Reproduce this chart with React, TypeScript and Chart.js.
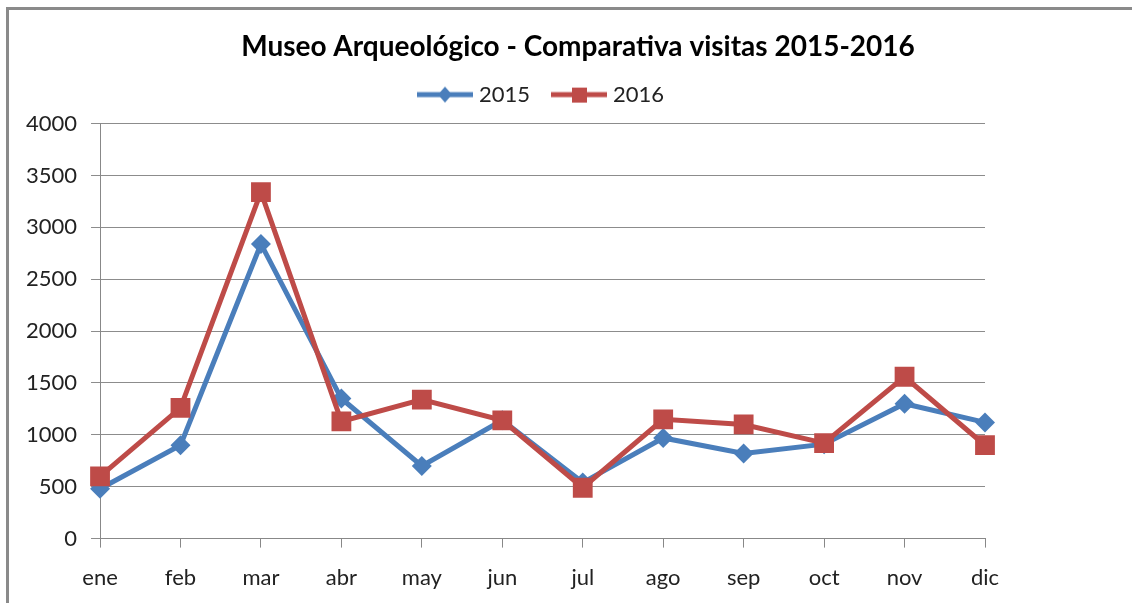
import React, { useEffect, useRef } from "react";
import { Chart, registerables } from "chart.js";

Chart.register(...registerables);

const months = ["ene", "feb", "mar", "abr", "may", "jun", "jul", "ago", "sep", "oct", "nov", "dic"];
const visits2015 = [480, 900, 2840, 1350, 700, 1140, 540, 970, 820, 910, 1300, 1120];
const visits2016 = [600, 1260, 3340, 1130, 1340, 1140, 490, 1150, 1100, 920, 1560, 900];
const seriesNames = ["2015", "2016"];
const titleText = "Museo Arqueológico - Comparativa visitas 2015-2016";

const BLUE = "#4A7EBB";
const RED = "#BE4B48";
const FONT = "Lato, 'Open Sans', sans-serif";

function legendIcon(color: string, shape: "diamond" | "square"): HTMLCanvasElement {
  const c = document.createElement("canvas");
  c.width = 56;
  c.height = 22;
  const ctx = c.getContext("2d")!;
  ctx.strokeStyle = color;
  ctx.lineWidth = 5;
  ctx.beginPath();
  ctx.moveTo(0, 11);
  ctx.lineTo(56, 11);
  ctx.stroke();
  ctx.fillStyle = color;
  if (shape === "diamond") {
    ctx.beginPath();
    ctx.moveTo(28, 3);
    ctx.lineTo(35, 11);
    ctx.lineTo(28, 19);
    ctx.lineTo(21, 11);
    ctx.closePath();
    ctx.fill();
  } else {
    ctx.fillRect(21, 4, 15, 15);
  }
  return c;
}

const shiftPlugin = {
  id: "shiftHeader",
  afterLayout(chart: any) {
    const t = chart.titleBlock;
    if (t) {
      const dx = 578 - (t.left + t.right) / 2;
      t.left += dx;
      t.right += dx;
    }
    const l = chart.legend;
    if (l) {
      const dx = 543 - (l.left + l.right) / 2;
      l.left += dx;
      l.right += dx;
      l.top -= 8;
      l.bottom -= 8;
    }
  },
};

export default function App() {
  const ref = useRef<HTMLCanvasElement | null>(null);

  useEffect(() => {
    if (!ref.current) return;
    const icons = [legendIcon(BLUE, "diamond"), legendIcon(RED, "square")];
    const chart = new Chart(ref.current, {
      type: "line",
      data: {
        labels: months,
        datasets: [
          {
            label: seriesNames[0],
            data: visits2015,
            borderColor: BLUE,
            backgroundColor: BLUE,
            borderWidth: 5,
            pointStyle: "rectRot",
            pointRadius: 10,
            pointBorderWidth: 0,
            pointBackgroundColor: BLUE,
            order: 1,
          },
          {
            label: seriesNames[1],
            data: visits2016,
            borderColor: RED,
            backgroundColor: RED,
            borderWidth: 5,
            pointStyle: "rect",
            pointRadius: 14,
            pointBorderWidth: 0,
            pointBackgroundColor: RED,
            order: 0,
          },
        ],
      },
      plugins: [shiftPlugin],
      options: {
        animation: false,
        responsive: false,
        maintainAspectRatio: false,
        layout: { padding: { left: 12, right: 147, top: 14, bottom: 0 } },
        plugins: {
          tooltip: { enabled: false },
          title: {
            display: true,
            text: titleText,
            color: "#000",
            font: { family: FONT, size: 28, weight: "bold" },
            padding: { top: 16, bottom: 2 },
          },
          legend: {
            display: true,
            position: "top",
            labels: {
              usePointStyle: true,
              pointStyleWidth: 46,
              padding: 26,
              color: "#222",
              font: { family: FONT, size: 22 },
              generateLabels: (ch: any) =>
                ch.data.datasets.map((ds: any, i: number) => ({
                  text: ds.label,
                  fillStyle: ds.borderColor,
                  strokeStyle: ds.borderColor,
                  lineWidth: 0,
                  pointStyle: icons[i],
                  datasetIndex: i,
                  hidden: false,
                  fontColor: "#222",
                })),
            },
          },
        },
        scales: {
          x: {
            offset: false,
            grid: {
              display: true,
              drawOnChartArea: false,
              drawTicks: true,
              tickLength: 9,
              color: "#888",
            },
            border: { display: true, color: "#888", width: 1 },
            ticks: {
              color: "#222",
              font: { family: FONT, size: 22 },
              padding: 17,
              maxRotation: 0,
              autoSkip: false,
            },
          },
          y: {
            min: 0,
            max: 4000,
            grid: {
              display: true,
              drawOnChartArea: true,
              drawTicks: true,
              tickLength: 9,
              color: "#8c8c8c",
            },
            border: { display: true, color: "#888", width: 1 },
            ticks: {
              stepSize: 500,
              color: "#222",
              font: { family: FONT, size: 22 },
              padding: 14,
              callback: (v: any) => String(v),
            },
          },
        },
      },
    });
    return () => chart.destroy();
  }, []);

  return (
    <div style={{ position: "fixed", left: 0, top: 0, width: 1132, height: 603, background: "#fff", overflow: "hidden" }}>
      <div
        style={{
          position: "absolute",
          left: 6,
          top: 7,
          width: 1126,
          height: 596,
          borderTop: "3px solid #8a8a8a",
          borderLeft: "3px solid #8a8a8a",
          boxSizing: "border-box",
        }}
      />
      <canvas ref={ref} width={1132} height={608} style={{ position: "absolute", left: 0, top: 0 }} />
    </div>
  );
}
